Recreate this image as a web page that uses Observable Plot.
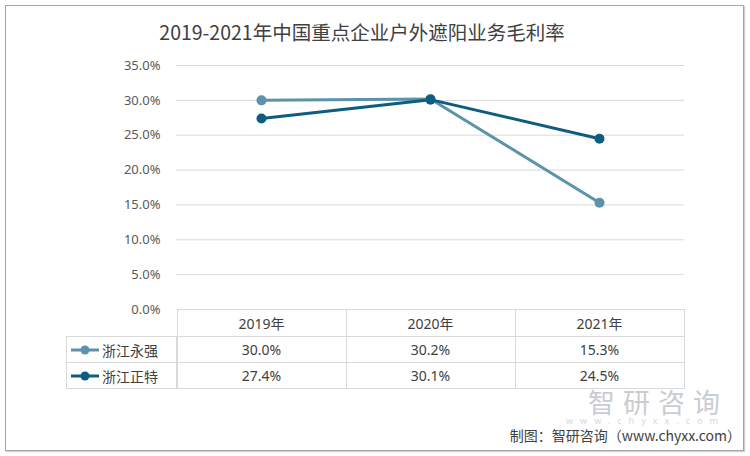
<!DOCTYPE html>
<html>
<head>
<meta charset="utf-8">
<script src="https://cdn.jsdelivr.net/npm/d3@7"></script>
<script src="https://cdn.jsdelivr.net/npm/@observablehq/plot@0.6"></script>
<style>
  html, body { margin: 0; padding: 0; background: #fff; }
  #wrap { position: relative; width: 750px; height: 456px; overflow: hidden; font-family: "Noto Sans", "Noto Sans CJK SC", sans-serif; color: #404040; }
  #frame { position: absolute; left: 5px; top: 5px; width: 739px; height: 446px; border: 1px solid #a6a6a6; box-shadow: 1px 1px 1px #d0d0d0; box-sizing: border-box; }
  #title { position: absolute; left: 0; width: 724px; top: 17px; text-align: center; font-size: 19.5px; font-family: "Noto Sans CJK SC", sans-serif; color: #404040; }
  #chart { position: absolute; left: 0; top: 0; }
  .cell { position: absolute; box-sizing: border-box; border: 1px solid #d9d9d9; font-size: 14px; color: #404040; display: flex; align-items: center; justify-content: center; font-family: "Noto Sans", "Noto Sans CJK SC", sans-serif; }
  #footer { position: absolute; right: 9px; top: 428px; font-size: 14px; line-height: 1; color: #404040; font-family: "Noto Sans CJK SC", "Noto Sans", sans-serif; }
  #wm { position: absolute; left: 588px; top: 388px; font-size: 27px; color: #c9cdd1; letter-spacing: 8px; font-family: "Noto Sans CJK SC", sans-serif; line-height: 1; }
  #wm2 { position: absolute; left: 566px; top: 416px; font-size: 9px; color: #d6d9dc; letter-spacing: 7px; line-height: 1; }
</style>
</head>
<body>
<div id="wrap">
  <div id="frame"></div>
  <div id="title"></div>
  <div id="wm">智研咨询</div>
  <div id="wm2">www.chyxx.com</div>
  <div id="chart"></div>
  <div id="table"></div>
  <div id="footer"></div>
</div>
<script>
const titleText = "2019-2021年中国重点企业户外遮阳业务毛利率";
const years = ["2019年", "2020年", "2021年"];
const seriesNames = ["浙江永强", "浙江正特"];
const yongqiang = [30.0, 30.2, 15.3];
const zhengte = [27.4, 30.1, 24.5];
const yTicks = [0, 5, 10, 15, 20, 25, 30, 35];
const colors = ["#5b93ab", "#0d5d80"];
const footerText = "制图：智研咨询（www.chyxx.com）";

document.getElementById("title").textContent = titleText;
document.getElementById("footer").textContent = footerText;

const seriesValues = [yongqiang, zhengte];
const data = [];
seriesNames.forEach((s, i) => years.forEach((yr, j) => data.push({series: s, year: yr, value: seriesValues[i][j]})));

const W = 750, H = 456, mL = 176, mR = 66, mT = 65, mB = 147;
const fmt = d => d.toFixed(1) + "%";

const chart = Plot.plot({
  width: W, height: H,
  marginLeft: mL, marginRight: mR, marginTop: mT, marginBottom: mB,
  x: {type: "point", domain: years, padding: 0.5, axis: null},
  y: {domain: [0, 35], axis: null},
  color: {domain: seriesNames, range: colors},
  style: {background: "transparent", fontFamily: "'Noto Sans', sans-serif", color: "#595959"},
  marks: [
    Plot.gridY(yTicks.filter(d => d > 0), {stroke: "#d9d9d9", strokeOpacity: 1, strokeWidth: 1}),
    Plot.axisY({ticks: yTicks, tickSize: 0, tickPadding: 16, tickFormat: fmt, fontSize: 13, fill: "#595959", label: null}),
    Plot.line(data, {x: "year", y: "value", z: "series", stroke: "series", strokeWidth: 3, curve: "linear"}),
    Plot.dot(data, {x: "year", y: "value", fill: "series", r: 5, stroke: "none"})
  ]
});
document.getElementById("chart").appendChild(chart);

// data table aligned to the x scale
const xs = chart.scale("x");
const step = xs.step !== undefined ? xs.step : (W - mL - mR) / years.length;
const table = document.getElementById("table");
const top0 = 309, hH = 27, rH = 26, leftX = 66;
function cell(x, y, w, h, html, extra) {
  const d = document.createElement("div");
  d.className = "cell";
  d.style.left = x + "px"; d.style.top = y + "px";
  d.style.width = (w + 1) + "px"; d.style.height = (h + 1) + "px";
  if (extra) Object.assign(d.style, extra);
  d.innerHTML = html;
  table.appendChild(d);
}
years.forEach((yr, j) => {
  const cx = xs.apply(yr);
  cell(cx - step / 2, top0, step, hH, yr);
});
seriesNames.forEach((s, i) => {
  const y = top0 + hH + i * rH;
  const key = `<svg width="30" height="12" style="margin-right:2px;flex:none"><line x1="1" y1="6" x2="29" y2="6" stroke="${colors[i]}" stroke-width="3"/><circle cx="15" cy="6" r="4.5" fill="${colors[i]}"/></svg><span>${s}</span>`;
  cell(leftX, y, mL - leftX, rH, key, {justifyContent: "flex-start", paddingLeft: "3px", fontFamily: "'Noto Sans CJK SC', sans-serif"});
  years.forEach((yr, j) => {
    const cx = xs.apply(yr);
    cell(cx - step / 2, y, step, rH, fmt(seriesValues[i][j]));
  });
});
</script>
</body>
</html>
